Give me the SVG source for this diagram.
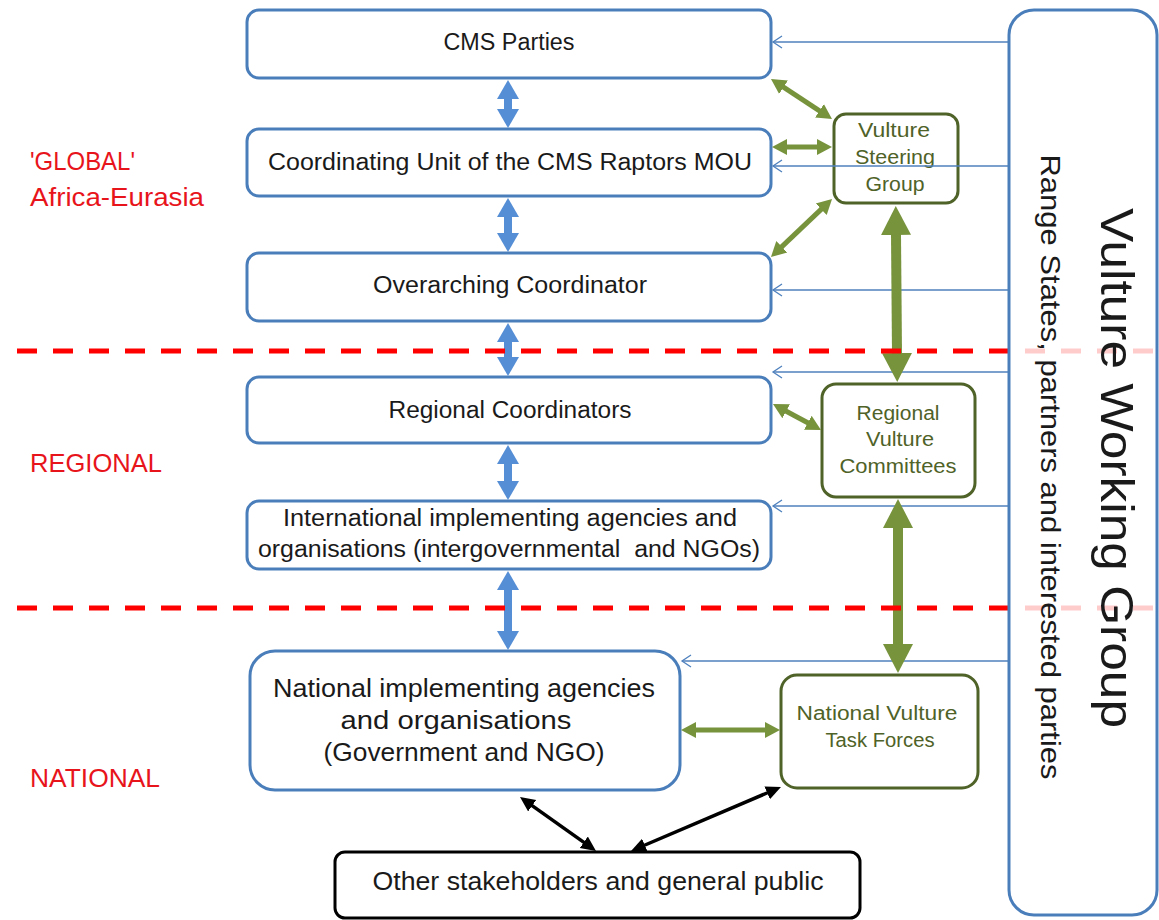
<svg xmlns="http://www.w3.org/2000/svg" width="1159" height="920" viewBox="0 0 1159 920">
<style>
.bbox{fill:#fff;stroke:#4A7EBB;stroke-width:3}
.gbox{fill:#fff;stroke:#4F6228;stroke-width:3}
.kbox{fill:#fff;stroke:#000;stroke-width:3}
.bt{font-family:"Liberation Sans",Arial,sans-serif;font-size:23px;fill:#1a1a1a;text-anchor:middle}
.gt{font-family:"Liberation Sans",Arial,sans-serif;font-size:20px;fill:#4F6228;text-anchor:middle}
.rt{font-family:"Liberation Sans",Arial,sans-serif;font-size:25px;fill:#E8141B}
.vt{font-family:"Liberation Sans",Arial,sans-serif;fill:#1a1a1a;text-anchor:middle}
.thin{stroke:#4F81BD;stroke-width:1.3;fill:none;marker-end:url(#open)}
.barr{stroke:#558ED5;stroke-width:8;marker-start:url(#bh);marker-end:url(#bh)}
.garr{stroke:#77933C;stroke-width:10;marker-start:url(#gH);marker-end:url(#gH)}
.gsm{stroke:#77933C;stroke-width:5;marker-start:url(#gh);marker-end:url(#gh)}
.karr{stroke:#000;stroke-width:3.5;marker-start:url(#kh);marker-end:url(#kh)}
.dash{stroke:#FF0000;stroke-width:5;stroke-dasharray:20 16;fill:none}
</style>
<defs>
<marker id="open" markerUnits="userSpaceOnUse" markerWidth="12" markerHeight="14" viewBox="-10 -7 12 14" refX="0" refY="0" orient="auto"><path d="M-9,-6 L0,0 L-9,6" fill="none" stroke="#4F81BD" stroke-width="1.3"/></marker>
<marker id="bh" markerUnits="userSpaceOnUse" markerWidth="20" markerHeight="24" viewBox="-1 -12 20 24" refX="0" refY="0" orient="auto-start-reverse"><path d="M-1,-11 L18,0 L-1,11Z" fill="#558ED5"/></marker>
<marker id="gH" markerUnits="userSpaceOnUse" markerWidth="30" markerHeight="32" viewBox="-1 -16 30 32" refX="0" refY="0" orient="auto-start-reverse"><path d="M-1,-15 L28,0 L-1,15Z" fill="#77933C"/></marker>
<marker id="gh" markerUnits="userSpaceOnUse" markerWidth="16" markerHeight="18" viewBox="-1 -9 16 18" refX="0" refY="0" orient="auto-start-reverse"><path d="M-1,-8 L14,0 L-1,8Z" fill="#77933C"/></marker>
<marker id="kh" markerUnits="userSpaceOnUse" markerWidth="16" markerHeight="16" viewBox="-1 -8 16 16" refX="0" refY="0" orient="auto-start-reverse"><path d="M-1,-7 L14,0 L-1,7Z" fill="#000"/></marker>
</defs>

<g id="labels">
<text class="rt" x="30" y="170" textLength="105" lengthAdjust="spacingAndGlyphs">'GLOBAL'</text>
<text class="rt" x="30" y="206" textLength="174" lengthAdjust="spacingAndGlyphs">Africa-Eurasia</text>
<text class="rt" x="30" y="472" textLength="132" lengthAdjust="spacingAndGlyphs">REGIONAL</text>
<text class="rt" x="30" y="787" textLength="130" lengthAdjust="spacingAndGlyphs">NATIONAL</text>
</g>

<g id="cms-parties">
<rect class="bbox" x="247" y="10" width="524" height="68" rx="12"/>
<text class="bt" x="509" y="50" textLength="131" lengthAdjust="spacingAndGlyphs">CMS Parties</text>
</g>
<g id="coordinating-unit">
<rect class="bbox" x="247" y="129" width="524" height="67" rx="12"/>
<text class="bt" x="510" y="170" textLength="484" lengthAdjust="spacingAndGlyphs">Coordinating Unit of the CMS Raptors MOU</text>
</g>
<g id="overarching">
<rect class="bbox" x="247" y="253" width="524" height="68" rx="12"/>
<text class="bt" x="510" y="293" textLength="274" lengthAdjust="spacingAndGlyphs">Overarching Coordinator</text>
</g>
<g id="regional-coordinators">
<rect class="bbox" x="247" y="377" width="524" height="66" rx="12"/>
<text class="bt" x="510" y="418" textLength="243" lengthAdjust="spacingAndGlyphs">Regional Coordinators</text>
</g>
<g id="international">
<rect class="bbox" x="247" y="501" width="524" height="68" rx="12"/>
<text class="bt" x="510" y="526" textLength="454" lengthAdjust="spacingAndGlyphs">International implementing agencies and</text>
<text class="bt" x="509" y="557" textLength="502" lengthAdjust="spacingAndGlyphs" xml:space="preserve">organisations (intergovernmental  and NGOs)</text>
</g>
<g id="national">
<rect class="bbox" x="250" y="651" width="430" height="139" rx="25"/>
<text class="bt" style="font-size:26px" x="464" y="697" textLength="382" lengthAdjust="spacingAndGlyphs">National implementing agencies</text>
<text class="bt" style="font-size:26px" x="456" y="729" textLength="231" lengthAdjust="spacingAndGlyphs">and organisations</text>
<text class="bt" style="font-size:26px" x="464" y="761" textLength="281" lengthAdjust="spacingAndGlyphs">(Government and NGO)</text>
</g>
<g id="stakeholders">
<rect class="kbox" x="335" y="852" width="525" height="66" rx="10"/>
<text class="bt" style="font-size:25px" x="598" y="890" textLength="451" lengthAdjust="spacingAndGlyphs">Other stakeholders and general public</text>
</g>

<g id="steering-group">
<rect class="gbox" x="834" y="114" width="124" height="89" rx="12"/>
<text class="gt" x="894" y="137" textLength="72" lengthAdjust="spacingAndGlyphs">Vulture</text>
<text class="gt" x="895" y="164" textLength="80" lengthAdjust="spacingAndGlyphs">Steering</text>
<text class="gt" x="895" y="191" textLength="59" lengthAdjust="spacingAndGlyphs">Group</text>
</g>
<g id="regional-committees">
<rect class="gbox" x="822" y="384" width="153" height="113" rx="14"/>
<text class="gt" x="898" y="420" textLength="83" lengthAdjust="spacingAndGlyphs">Regional</text>
<text class="gt" x="900" y="446" textLength="68" lengthAdjust="spacingAndGlyphs">Vulture</text>
<text class="gt" x="898" y="473" textLength="117" lengthAdjust="spacingAndGlyphs">Committees</text>
</g>
<g id="task-forces">
<rect class="gbox" x="781" y="675" width="197" height="113" rx="16"/>
<text class="gt" x="877" y="720" textLength="161" lengthAdjust="spacingAndGlyphs">National Vulture</text>
<text class="gt" x="880" y="747" textLength="109" lengthAdjust="spacingAndGlyphs">Task Forces</text>
</g>

<g id="connectors">
<line class="thin" x1="1008" y1="42" x2="773" y2="42"/>
<line class="thin" x1="1008" y1="166" x2="773" y2="166"/>
<line class="thin" x1="1008" y1="290" x2="773" y2="290"/>
<line class="thin" x1="1008" y1="372" x2="773" y2="372"/>
<line class="thin" x1="1008" y1="506" x2="773" y2="506"/>
<line class="thin" x1="1008" y1="661" x2="682" y2="661"/>

<line class="barr" x1="508" y1="98" x2="508" y2="110"/>
<line class="barr" x1="508" y1="216" x2="508" y2="234"/>
<line class="barr" x1="508" y1="341" x2="508" y2="358"/>
<line class="barr" x1="508" y1="463" x2="508" y2="482"/>
<line class="barr" x1="508" y1="589" x2="508" y2="632"/>

<line class="garr" x1="896" y1="234" x2="897" y2="354"/>
<line class="garr" x1="898" y1="527" x2="898" y2="645"/>

<line class="gsm" x1="782.7" y1="86.7" x2="820.3" y2="111.3"/>
<line class="gsm" x1="786" y1="147" x2="818" y2="147"/>
<line class="gsm" x1="821.9" y1="208.6" x2="781.1" y2="247.4"/>
<line class="gsm" x1="785.3" y1="410.7" x2="808.7" y2="423.3"/>
<line class="gsm" x1="695" y1="730" x2="766" y2="730"/>

<line class="karr" x1="531.4" y1="805.1" x2="584.6" y2="842.9"/>
<line class="karr" x1="768.1" y1="792.5" x2="643.9" y2="845.5"/>
</g>

<g id="dividers">
<line class="dash" x1="17" y1="351" x2="1159" y2="351"/>
<line class="dash" x1="17" y1="608" x2="1159" y2="608"/>
</g>

<g id="vulture-working-group">
<rect x="1009" y="10" width="148" height="905" rx="25" fill="#fff" fill-opacity="0.8" stroke="#4A7EBB" stroke-width="3"/>
<text class="vt" transform="translate(1101,468) rotate(90)" style="font-size:46px" textLength="520" lengthAdjust="spacingAndGlyphs">Vulture Working Group</text>
<text class="vt" transform="translate(1041,467) rotate(90)" style="font-size:28px" textLength="625" lengthAdjust="spacingAndGlyphs">Range States, partners and interested parties</text>
</g>
</svg>
